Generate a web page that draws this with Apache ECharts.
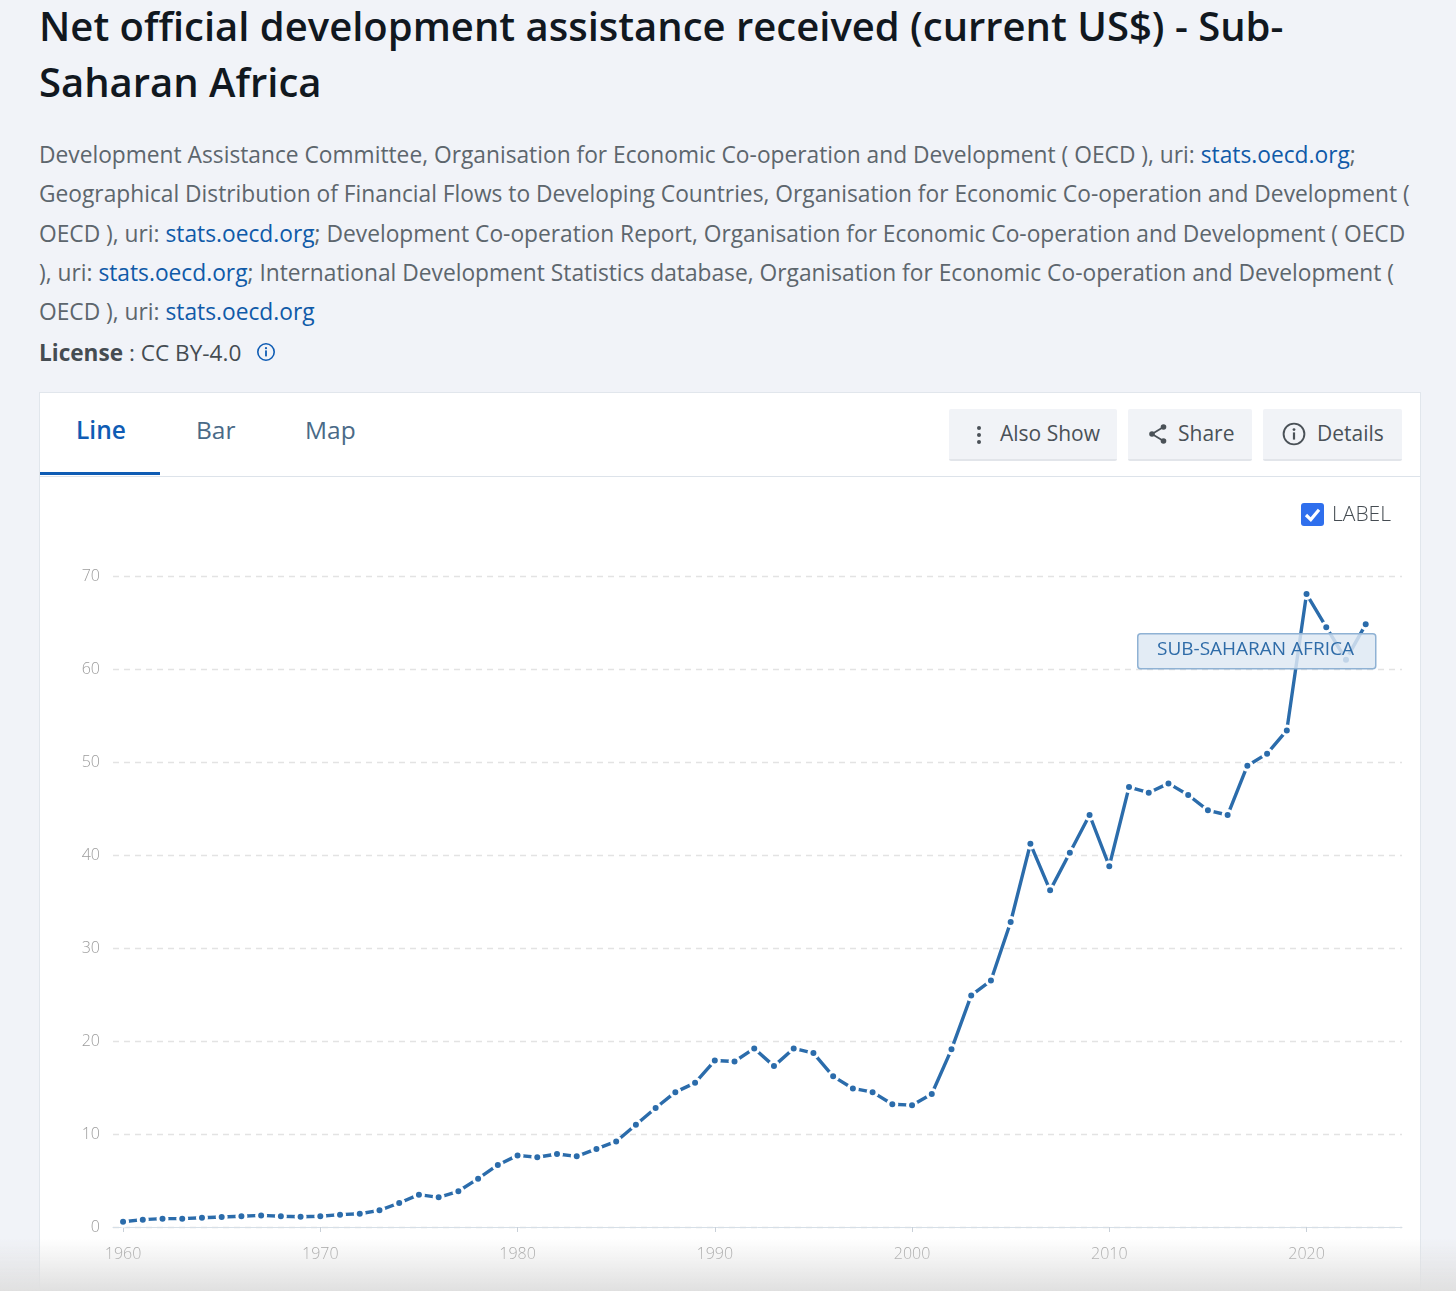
<!DOCTYPE html>
<html><head><meta charset="utf-8">
<script src="https://cdn.jsdelivr.net/npm/echarts@6/dist/echarts.min.js"></script>
<style>
html,body{margin:0;padding:0;width:1456px;height:1291px;overflow:hidden;background:#f1f3f8;font-family:"Open Sans",sans-serif}
.abs{position:absolute;white-space:nowrap}
a{color:#0f5aa8;text-decoration:none}
#title{left:39px;top:-2px;font-size:40px;line-height:56px;font-weight:600;color:#11181f}
#desc{left:39px;top:135px;font-size:22.75px;line-height:39.3px;color:#5d666d}
#lic{left:39px;top:336px;font-size:22.6px;line-height:34px;color:#454c52}
#lic b{font-weight:700}
#card{left:39px;top:392px;width:1382px;height:899px;background:#fff;border:1px solid #e1e6ec;border-bottom:none;box-sizing:border-box}
#bar{left:40px;top:476px;width:1380px;height:1px;background:#dde3ea}
#under{left:40px;top:472px;width:120px;height:3px;background:#0f5cb4}
.tab{top:412px;font-size:25px;line-height:36px;color:#4a6a87}
.btn{top:409px;height:52px;background:#f1f3f7;border-bottom:2px solid #e2e5ea;border-radius:2px;box-sizing:border-box;font-size:21px;line-height:48px;color:#4a5157}
.btn span,.btn svg{position:absolute}
#chart{left:40px;top:477px;width:1380px;height:814px}
#fade{left:0;top:1238px;width:1456px;height:53px;background:linear-gradient(to bottom,rgba(224,224,224,0),rgba(224,224,224,1));pointer-events:none}
#chk{left:1301px;top:503px;width:23px;height:23px;background:#2f6fed;border-radius:3px}
#chklab{left:1332px;top:497px;font-size:21px;line-height:32px;color:#454c52;font-weight:300}
</style></head><body>
<div class="abs" id="title">Net official development assistance received (current US$) - Sub-<br>Saharan Africa</div>
<div class="abs" id="desc">Development Assistance Committee, Organisation for Economic Co-operation and Development ( OECD ), uri: <a>stats.oecd.org</a>;<br>Geographical Distribution of Financial Flows to Developing Countries, Organisation for Economic Co-operation and Development (<br>OECD ), uri: <a>stats.oecd.org</a>; Development Co-operation Report, Organisation for Economic Co-operation and Development ( OECD<br>), uri: <a>stats.oecd.org</a>; International Development Statistics database, Organisation for Economic Co-operation and Development (<br>OECD ), uri: <a>stats.oecd.org</a></div>
<div class="abs" id="lic"><b>License</b> : CC BY-4.0</div>
<svg class="abs" style="left:256px;top:342px" width="20" height="20" viewBox="0 0 20 20"><circle cx="10" cy="10" r="8.2" fill="none" stroke="#0f5cb4" stroke-width="1.6"/><circle cx="10" cy="6.2" r="1.1" fill="#0f5cb4"/><rect x="9.1" y="8.4" width="1.8" height="6" fill="#0f5cb4"/></svg>
<div class="abs" id="card"></div>
<div class="abs" id="bar"></div><div class="abs" id="under"></div>
<div class="abs tab" style="left:76px;color:#0f5cb4;font-weight:600;font-size:24.5px">Line</div>
<div class="abs tab" style="left:196px;font-size:24.5px">Bar</div>
<div class="abs tab" style="left:305px;font-size:24.5px">Map</div>
<div class="abs btn" style="left:949px;width:168px"><svg style="left:27px;top:16px" width="6" height="20"><circle cx="3" cy="3" r="2" fill="#4a5157"/><circle cx="3" cy="10" r="2" fill="#4a5157"/><circle cx="3" cy="17" r="2" fill="#4a5157"/></svg><span style="left:51px">Also Show</span></div>
<div class="abs btn" style="left:1128px;width:124px"><svg style="left:19px;top:14px" width="22" height="22" viewBox="0 0 22 22"><path d="M16.5 4 L5 11 L16.5 18" fill="none" stroke="#4a5157" stroke-width="1.8"/><circle cx="16.5" cy="4" r="2.8" fill="#4a5157"/><circle cx="5" cy="11" r="2.8" fill="#4a5157"/><circle cx="16.5" cy="18" r="2.8" fill="#4a5157"/></svg><span style="left:50px">Share</span></div>
<div class="abs btn" style="left:1263px;width:139px"><svg style="left:19px;top:13px" width="24" height="24" viewBox="0 0 24 24"><circle cx="12" cy="12" r="10.4" fill="none" stroke="#4a5157" stroke-width="1.9"/><circle cx="12" cy="7.6" r="1.4" fill="#4a5157"/><rect x="10.9" y="10.4" width="2.2" height="7.2" fill="#4a5157"/></svg><span style="left:54px">Details</span></div>
<div class="abs" id="chart"></div>
<div class="abs" id="chk"><svg width="23" height="23" viewBox="0 0 23 23"><path d="M5 12 L9.8 16.6 L18 6.8" fill="none" stroke="#fff" stroke-width="3.2"/></svg></div>
<div class="abs" id="chklab">LABEL</div>
<div class="abs" id="fade"></div>
<script>
const years = [1960,1961,1962,1963,1964,1965,1966,1967,1968,1969,
  1970,1971,1972,1973,1974,1975,1976,1977,1978,1979,
  1980,1981,1982,1983,1984,1985,1986,1987,1988,1989,
  1990,1991,1992,1993,1994,1995,1996,1997,1998,1999,
  2000,2001,2002,2003,2004,2005,2006,2007,2008,2009,
  2010,2011,2012,2013,2014,2015,2016,2017,2018,2019,
  2020,2021,2022,2023];
const aid = [0.57,0.79,0.9,0.9,1.0,1.07,1.15,1.25,1.15,1.1,
  1.15,1.33,1.43,1.79,2.58,3.48,3.19,3.84,5.2,6.67,
  7.7,7.5,7.85,7.6,8.4,9.2,11.0,12.8,14.5,15.5,
  17.9,17.8,19.2,17.3,19.2,18.7,16.2,14.9,14.5,13.2,
  13.1,14.3,19.1,24.9,26.5,32.8,41.2,36.2,40.25,44.3,
  38.8,47.3,46.7,47.7,46.45,44.8,44.3,49.6,50.9,53.4,
  68.06,64.5,61.0,64.8];
const xTicks = [1960,1970,1980,1990,2000,2010,2020];
const seriesLabel = 'SUB-SAHARAN AFRICA';

const chart = echarts.init(document.getElementById('chart'), null, {renderer:'canvas'});
const font = '"Open Sans",sans-serif';
const baseX = {type:'value', min:1959.49, max:2024.84, splitLine:{show:false}};
chart.setOption({
  animation:false,
  grid:{left:73,right:18,top:99,bottom:64},
  xAxis:[
    Object.assign({}, baseX, {
      position:'bottom', offset:4,
      axisLine:{show:false},
      axisTick:{show:true,length:5,customValues:xTicks,lineStyle:{color:'#c9d0d8',width:1}},
      axisLabel:{show:true,customValues:xTicks,formatter:v=>String(v),margin:15,color:'#9c9c9c',fontSize:16,fontFamily:font,fontWeight:300}
    }),
    Object.assign({}, baseX, {
      position:'bottom',
      axisLine:{show:true,onZero:false,lineStyle:{color:'#d6dfe7',width:1}},
      axisTick:{show:false},axisLabel:{show:false}
    })
  ],
  yAxis:{type:'value',min:0,max:70,interval:10,
    axisLine:{show:false},axisTick:{show:false},
    axisLabel:{margin:13,color:'#9c9c9c',fontSize:16,fontFamily:font,fontWeight:300},
    splitLine:{show:true,lineStyle:{color:'#e3e3e3',type:[6,5],width:1.4}}
  },
  series:[{
    type:'line',xAxisIndex:0,
    data:years.map((y,i)=>[y,aid[i]]),
    showSymbol:true,showAllSymbols:true,symbol:'circle',symbolSize:9,
    itemStyle:{color:'#2b6cab',borderColor:'#ffffff',borderWidth:3},
    lineStyle:{color:'#2b6cab',width:3.4},
    z:3
  }],
  graphic:[
    {type:'rect',left:1097,top:156,z:100,shape:{x:0,y:0,width:238,height:35,r:3},
     style:{fill:'rgba(222,232,243,0.84)',stroke:'#8fb2d4',lineWidth:1.5}},
    {type:'text',left:1117,top:163,z:101,style:{text:seriesLabel,fill:'#2f6ca8',font:'400 19px '+font}}
  ]
});
</script>
</body></html>
